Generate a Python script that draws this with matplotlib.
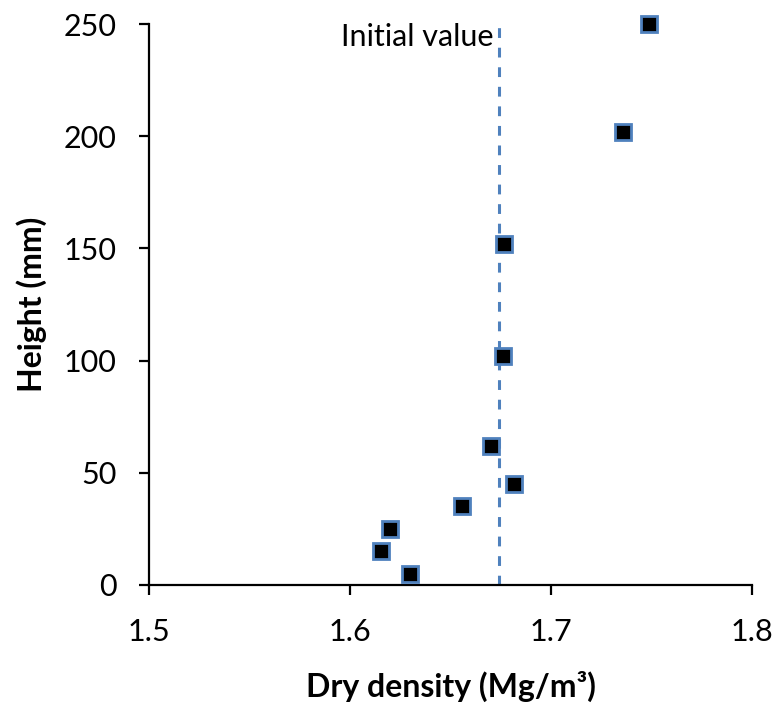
import matplotlib
matplotlib.use("Agg")
import matplotlib.pyplot as plt

plt.rcParams['font.family'] = ['Lato', 'DejaVu Sans']

dry_density = [1.749, 1.736, 1.6765, 1.676, 1.670, 1.6815, 1.6555, 1.620, 1.6155, 1.630]
height = [250, 202, 152, 102, 62, 45, 35, 25, 15, 5]
initial_value = 1.674
x_ticks = [1.5, 1.6, 1.7, 1.8]
y_ticks = [0, 50, 100, 150, 200, 250]

fig = plt.figure(figsize=(7.82, 7.10), dpi=100)
ax = fig.add_axes([149/782, 1-585/710, (752-149)/782, (585-24)/710])

ax.plot([initial_value, initial_value], [0, 250], linestyle=(0, (3.2, 3.2)),
        color='#4F81BD', linewidth=2.2, zorder=2)
ax.text(initial_value - 0.0025, 244, 'Initial value', ha='right', va='center',
        fontsize=22, color='black')
ax.plot(dry_density, height, linestyle='none', marker='s', markersize=12,
        markerfacecolor='black', markeredgecolor='#4F81BD', markeredgewidth=2.0,
        zorder=3, clip_on=False)

ax.set_xlim(1.5, 1.8)
ax.set_ylim(0, 250)
ax.set_xticks(x_ticks)
ax.set_xticklabels(['1.5', '1.6', '1.7', '1.8'])
ax.set_yticks(y_ticks)
for s in ['top', 'right']:
    ax.spines[s].set_visible(False)
for s in ['left', 'bottom']:
    ax.spines[s].set_linewidth(1.6)
ax.tick_params(direction='out', length=7.5, width=1.6, labelsize=22)
ax.tick_params(axis='x', pad=16)
ax.tick_params(axis='y', pad=16)
ax.set_xlabel('Dry density (Mg/m³)', fontsize=23, fontweight='bold', labelpad=18)
ax.set_ylabel('Height (mm)', fontsize=23, fontweight='bold', labelpad=12)

fig.savefig('out.png', dpi=100)
